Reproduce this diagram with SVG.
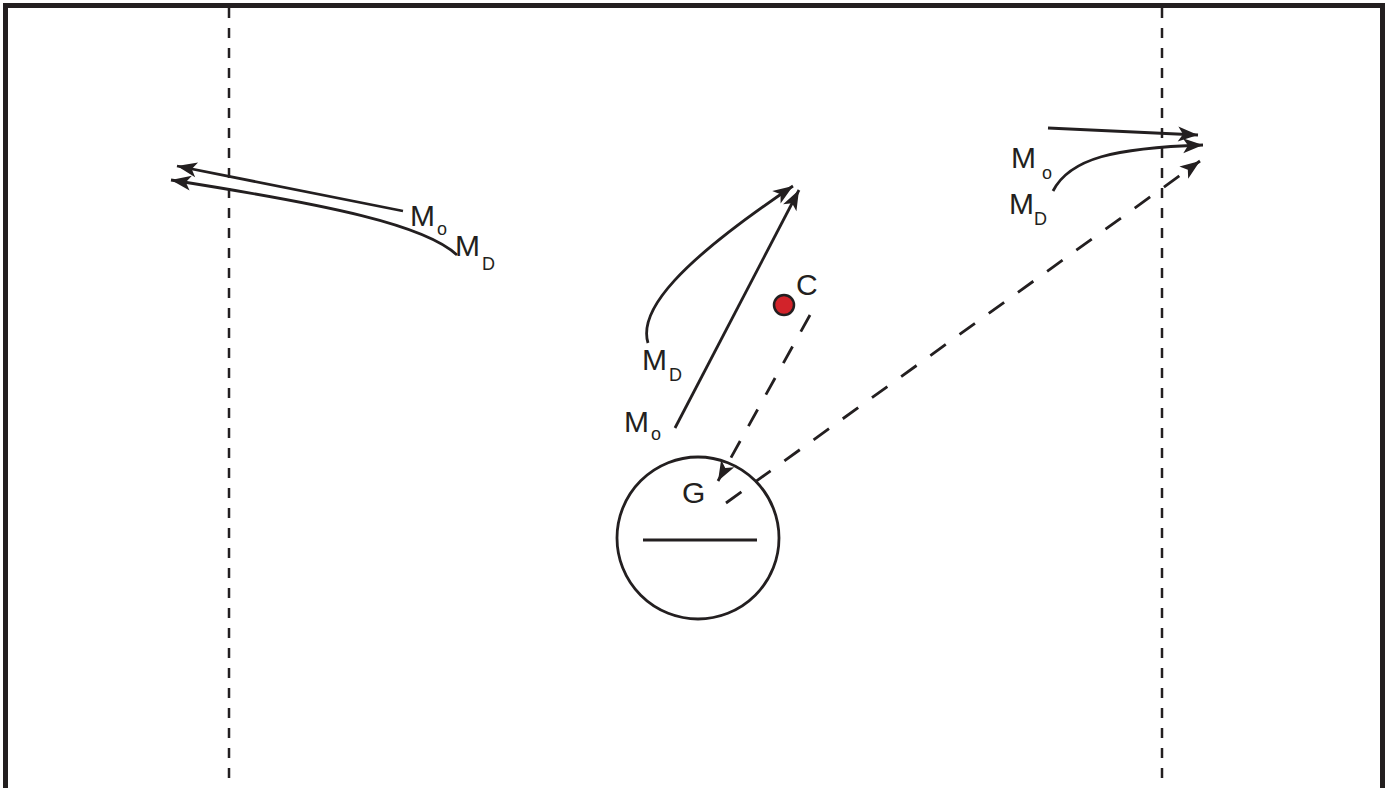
<svg xmlns="http://www.w3.org/2000/svg" width="1388" height="788" viewBox="0 0 1388 788">
<style>
.ln{fill:none;stroke:#231f20;stroke-width:2.8}
.dash{fill:none;stroke:#231f20;stroke-width:2.8;stroke-dasharray:19 17}
.vd{fill:none;stroke:#231f20;stroke-width:2.5;stroke-dasharray:10 10}
.t{font-family:"Liberation Sans",Arial,sans-serif;font-size:30px;fill:#231f20}
.s{font-family:"Liberation Sans",Arial,sans-serif;font-size:18px;fill:#231f20}
</style>
<defs>
<marker id="ah" markerUnits="userSpaceOnUse" markerWidth="26" markerHeight="18" viewBox="-22 -9 24 18" refX="0" refY="0" orient="auto">
<path d="M0,0 L-20,-7.5 L-15,0 L-20,7.5 Z" fill="#231f20"/>
</marker>
</defs>
<rect width="1388" height="788" fill="#fff"/>
<g id="frame">
<path d="M5.5,788 V5.5 H1382.5 V788" fill="none" stroke="#231f20" stroke-width="5"/>
<line class="vd" x1="229" y1="8" x2="229" y2="788"/>
<line class="vd" x1="1162" y1="8" x2="1162" y2="788"/>
</g>
<g id="connectors">
<line class="ln" x1="403" y1="211" x2="177" y2="166" marker-end="url(#ah)"/>
<path class="ln" d="M457,255 C425,225 330,205 171,180" marker-end="url(#ah)"/>
<line class="ln" x1="675" y1="428" x2="799" y2="190" marker-end="url(#ah)"/>
<path class="ln" d="M648,343 C638,310 680,262 793,186" marker-end="url(#ah)"/>
<line class="ln" x1="1048" y1="128" x2="1198" y2="135" marker-end="url(#ah)"/>
<path class="ln" d="M1053,191 C1070,158 1115,148 1203,145" marker-end="url(#ah)"/>
<line class="dash" x1="810" y1="315" x2="718" y2="481" marker-end="url(#ah)"/>
<line class="dash" x1="726" y1="503" x2="1200" y2="161" marker-end="url(#ah)"/>
</g>
<g id="node-G">
<circle cx="698" cy="538" r="81" fill="none" stroke="#231f20" stroke-width="2.8"/>
<line x1="643" y1="540" x2="757" y2="540" stroke="#231f20" stroke-width="2.8"/>
<text class="t" x="682" y="503">G</text>
</g>
<g id="node-C">
<circle cx="784" cy="305" r="10" fill="#d2232a" stroke="#231f20" stroke-width="2.5"/>
<text class="t" x="796" y="295">C</text>
</g>
<g id="labels-left">
<text class="t" x="410" y="226">M</text><text class="s" x="437" y="235">o</text>
<text class="t" x="455" y="256">M</text><text class="s" x="482" y="270">D</text>
</g>
<g id="labels-mid">
<text class="t" x="642" y="370">M</text><text class="s" x="669" y="381">D</text>
<text class="t" x="624" y="432">M</text><text class="s" x="651" y="440">o</text>
</g>
<g id="labels-right">
<text class="t" x="1011" y="168">M</text><text class="s" x="1042" y="179">o</text>
<text class="t" x="1009" y="214">M</text><text class="s" x="1034" y="225">D</text>
</g>
</svg>
